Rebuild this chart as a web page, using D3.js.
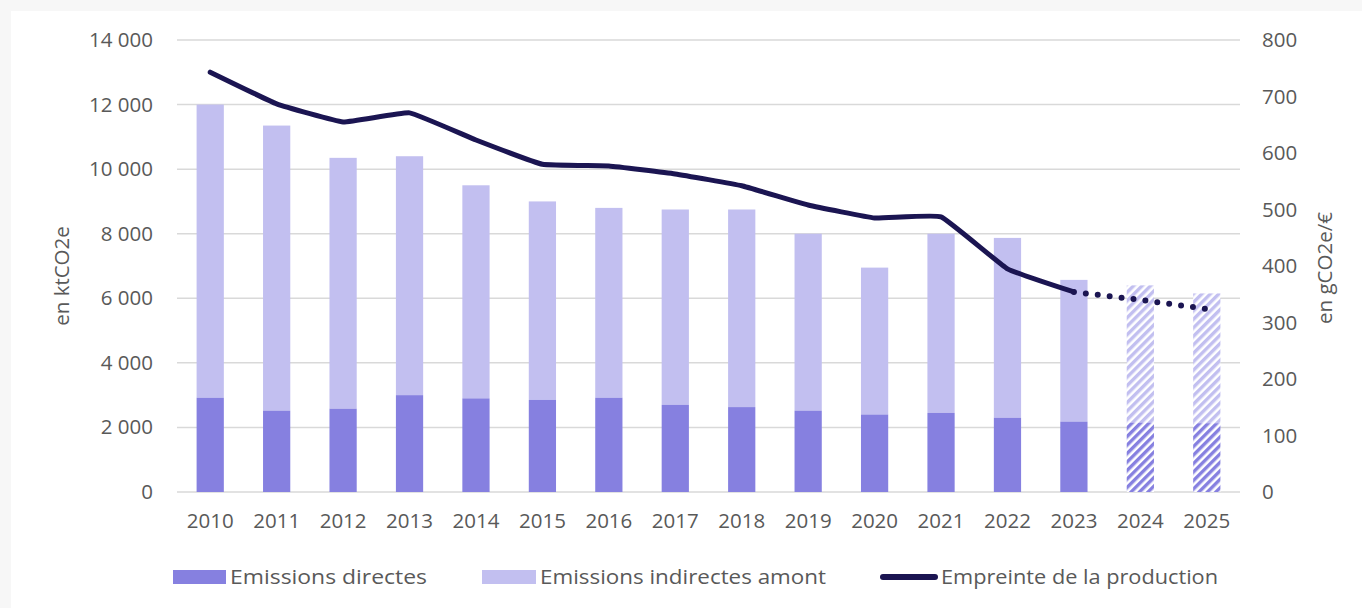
<!DOCTYPE html>
<html><head><meta charset="utf-8">
<script src="https://cdn.jsdelivr.net/npm/d3@7"></script>
<style>
html,body{margin:0;padding:0;background:#f7f7f7;}
svg{display:block;}
text{font-family:"Open Sans",sans-serif;fill:#595959;}
</style></head><body>
<svg id="c" width="1362" height="608"></svg>
<script>
const years = ["2010","2011","2012","2013","2014","2015","2016","2017","2018","2019","2020","2021","2022","2023","2024","2025"];
const directes = [2920,2520,2580,3000,2900,2850,2920,2700,2630,2520,2400,2450,2300,2180,2150,2130];
const indirectes = [9080,8830,7770,7400,6600,6150,5880,6050,6120,5480,4550,5550,5570,4390,4250,4020];
const empreinte = [743,687,655,671,623,580,577,563,542,508,485,487,395,354,340,324];
const projected = ["2024","2025"];
const leftTicks = [0,2000,4000,6000,8000,10000,12000,14000];
const rightTicks = [0,100,200,300,400,500,600,700,800];
const labels = {left:"en ktCO2e", right:"en gCO2e/€", directes:"Emissions directes", indirectes:"Emissions indirectes amont", empreinte:"Empreinte de la production"};

const colD = "#8680e0", colI = "#c2bff0", colL = "#1b1552";
const FS = "20.5px";
const svg = d3.select("#c");
svg.append("rect").attr("x",11).attr("y",11).attr("width",1362-11).attr("height",608-11).attr("fill","#fff");

const defs = svg.append("defs");
function hatch(id,col){
  const p = defs.append("pattern").attr("id",id).attr("patternUnits","userSpaceOnUse")
    .attr("width",6).attr("height",6).attr("patternTransform","rotate(45)");
  p.append("rect").attr("width",6).attr("height",6).attr("fill","#fff");
  p.append("rect").attr("width",3.4).attr("height",6).attr("fill",col);
}
hatch("hD",colD); hatch("hI",colI);

const L=177, R=1240, T=40, B=492;
const x = d3.scaleBand().domain(years).range([L,R]).paddingInner(0.59).paddingOuter(0.295);
const yL = d3.scaleLinear().domain([0,14000]).range([B,T]);
const yR = d3.scaleLinear().domain([0,800]).range([B,T]);

// grid
svg.append("g").selectAll("line").data(leftTicks).join("line")
  .attr("x1",L).attr("x2",R).attr("y1",d=>yL(d)).attr("y2",d=>yL(d))
  .attr("stroke","#d9d9d9").attr("stroke-width",1.5);

const fmt = d=> d3.format(",")(d).replace(/,/g," ");
const axL = svg.append("g").attr("transform",`translate(${L},0)`)
  .call(d3.axisLeft(yL).tickValues(leftTicks).tickFormat(fmt).tickSize(0).tickPadding(24));
const axR = svg.append("g").attr("transform",`translate(${R},0)`)
  .call(d3.axisRight(yR).tickValues(rightTicks).tickSize(0).tickPadding(22));
const axX = svg.append("g").attr("transform",`translate(0,${B})`)
  .call(d3.axisBottom(x).tickSize(0).tickPadding(21));
[axL,axR,axX].forEach(a=>{a.attr("font-size",null).attr("font-family",null); a.select(".domain").remove(); a.selectAll("text").style("font-size",FS).attr("fill","#595959").style("font-family","'Open Sans',sans-serif");});

// bars
const g = svg.append("g");
years.forEach((yr,i)=>{
  const proj = projected.includes(yr);
  g.append("rect").attr("x",x(yr)).attr("width",x.bandwidth())
    .attr("y",yL(directes[i]+indirectes[i])).attr("height",yL(directes[i])-yL(directes[i]+indirectes[i]))
    .attr("fill",proj?"url(#hI)":colI);
  g.append("rect").attr("x",x(yr)).attr("width",x.bandwidth())
    .attr("y",yL(directes[i])).attr("height",B-yL(directes[i]))
    .attr("fill",proj?"url(#hD)":colD);
});

// line
const pts = years.map((yr,i)=>[x(yr)+x.bandwidth()/2, yR(empreinte[i])]);
const idx = years.indexOf("2023");
const line = d3.line().curve(d3.curveCardinal.tension(0.7));
svg.append("path").attr("d",line(pts.slice(0,idx+1))).attr("fill","none")
  .attr("stroke",colL).attr("stroke-width",5).attr("stroke-linecap","round").attr("stroke-linejoin","round");
svg.append("path").attr("d",d3.line()(pts.slice(idx))).attr("fill","none")
  .attr("stroke",colL).attr("stroke-width",6).attr("stroke-linecap","round").attr("stroke-dasharray","0 12");

// axis titles
svg.append("text").attr("transform",`translate(69,276) rotate(-90)`).attr("text-anchor","middle")
  .style("font-size",FS).text(labels.left);
svg.append("text").attr("transform",`translate(1332,268) rotate(-90)`).attr("text-anchor","middle")
  .style("font-size",FS).text(labels.right);

// legend
const lg = svg.append("g");
const ly = 577;
function item(x0,w,tx,tw,txt,kind,col){
  if(kind==="rect") lg.append("rect").attr("x",x0).attr("y",ly-7).attr("width",w).attr("height",14).attr("fill",col);
  else lg.append("line").attr("x1",x0+3).attr("x2",x0+w-3).attr("y1",ly).attr("y2",ly).attr("stroke",col).attr("stroke-width",6).attr("stroke-linecap","round");
  lg.append("text").attr("x",tx).attr("y",ly+7).style("font-size",FS)
    .attr("textLength",tw).attr("lengthAdjust","spacingAndGlyphs").text(txt);
}
item(173,53,230,197,labels.directes,"rect",colD);
item(482,54,540,286,labels.indirectes,"rect",colI);
item(880,58,941,277,labels.empreinte,"line",colL);
</script></body></html>
